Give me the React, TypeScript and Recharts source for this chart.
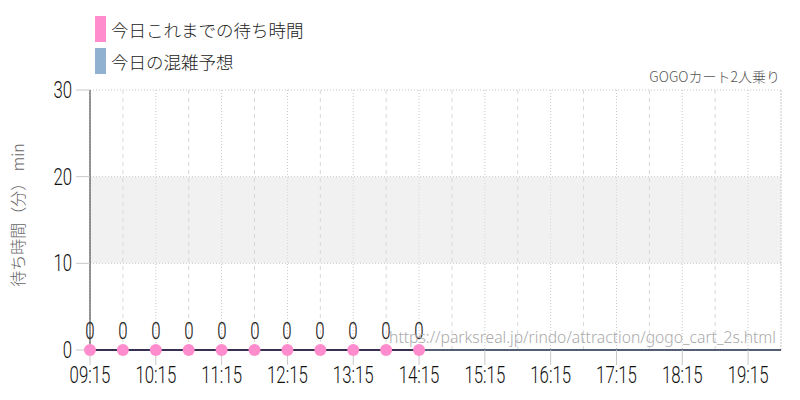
import React from 'react';
import {
  LineChart, Line, XAxis, YAxis, CartesianGrid, ReferenceArea, ReferenceLine, LabelList,
} from 'recharts';

const pointTimes = ['09:15', '09:45', '10:15', '10:45', '11:15', '11:45', '12:15', '12:45', '13:15', '13:45', '14:15'];
const waitValues = [0, 0, 0, 0, 0, 0, 0, 0, 0, 0, 0];
const tickLabels = ['09:15', '10:15', '11:15', '12:15', '13:15', '14:15', '15:15', '16:15', '17:15', '18:15', '19:15'];
const halfHourLabels = ['09:45', '10:45', '11:45', '12:45', '13:45', '14:45', '15:45', '16:45', '17:45', '18:45'];
const domainLabels = ['09:15', '19:45'];
const yTicks = [0, 10, 20, 30];
const busyBand = [10, 20];
const legendItems = [
  { name: '今日これまでの待ち時間', color: '#ff8ccc' },
  { name: '今日の混雑予想', color: '#90b2d0' },
];
const titleText = 'GOGOカート2人乗り';
const urlText = 'https://parksreal.jp/rindo/attraction/gogo_cart_2s.html';
const yLabel = '待ち時間（分） min';

const toMin = (s: string) => {
  const [h, m] = s.split(':').map(Number);
  return h * 60 + m;
};
const fmt = (v: number) => {
  const h = Math.floor(v / 60);
  const m = v % 60;
  return `${String(h).padStart(2, '0')}:${String(m).padStart(2, '0')}`;
};

const data = pointTimes.map((t, i) => ({ t: toMin(t), wait: waitValues[i] }));
const numFont = 'Roboto, sans-serif';

const XTick = (props: any) => {
  const { x, y, payload } = props;
  return (
    <g transform={`translate(${x},${y})`}>
      <text transform="scale(0.73,1)" textAnchor="middle" y={16} fontFamily={numFont} fontWeight={300} fontSize={23} fill="#111" stroke="none">
        {fmt(payload.value)}
      </text>
    </g>
  );
};

const YTick = (props: any) => {
  const { x, y, payload } = props;
  return (
    <g transform={`translate(${x - 2},${y})`}>
      <text transform="scale(0.73,1)" textAnchor="end" y={8} fontFamily={numFont} fontWeight={300} fontSize={23} fill="#111" stroke="none">
        {payload.value}
      </text>
    </g>
  );
};

const PointLabel = (props: any) => {
  const { x, y, value } = props;
  return (
    <g transform={`translate(${Math.round(x)},${Math.round(y) - 11})`}>
      <text transform="scale(0.73,1)" textAnchor="middle" fontFamily={numFont} fontWeight={300} fontSize={23} fill="#222" stroke="#222" strokeWidth={0.15}>
        {value}
      </text>
    </g>
  );
};

export default function App() {
  return (
    <div style={{ position: 'absolute', left: 0, top: 0, width: 800, height: 400, background: '#fff', fontFamily: '"Noto Sans CJK JP", sans-serif' }}>
      <LineChart width={800} height={400} data={data} margin={{ top: 90, right: 19, left: 0, bottom: 0 }}>
        <ReferenceArea y1={busyBand[0]} y2={busyBand[1]} fill="#e4e4e4" fillOpacity={0.5} stroke="none" ifOverflow="visible" />
        <CartesianGrid stroke="#c8c8c8" strokeDasharray="1 2" />
        {halfHourLabels.map((h) => (
          <ReferenceLine key={h} x={toMin(h)} stroke="#d8d8d8" strokeDasharray="4 4" />
        ))}
        <ReferenceLine x={toMin(domainLabels[1])} stroke="#c8c8c8" strokeDasharray="1 2" />
        <XAxis
          dataKey="t"
          type="number"
          domain={[toMin(domainLabels[0]), toMin(domainLabels[1])]}
          ticks={tickLabels.map(toMin)}
          height={50}
          axisLine={{ stroke: '#1e2d48', strokeWidth: 1.5 }}
          tickLine={{ stroke: '#c8c8c8' }}
          tickSize={15}
          tickMargin={2}
          tick={<XTick />}
          interval={0}
        />
        <YAxis
          domain={[0, 30]}
          ticks={yTicks}
          width={90}
          axisLine={{ stroke: '#333' }}
          tickLine={{ stroke: '#c8c8c8' }}
          tickSize={14}
          tickMargin={2}
          tick={<YTick />}
          interval={0}
        />
        <Line
          dataKey="wait"
          stroke="#8a3a6e"
          strokeWidth={2}
          isAnimationActive={false}
          dot={{ r: 6, fill: '#ff8ccc', stroke: 'none' }}
          activeDot={false}
        >
          <LabelList dataKey="wait" content={<PointLabel />} />
        </Line>
      </LineChart>

      <div style={{ position: 'absolute', left: 95, top: 13 }}>
        {legendItems.map((it) => (
          <div key={it.name} style={{ display: 'flex', alignItems: 'center', height: 32 }}>
            <div style={{ width: 11, height: 26, background: it.color, marginRight: 5 }} />
            <span style={{ fontSize: 17.5, color: '#222', whiteSpace: 'nowrap', fontWeight: 300 }}>{it.name}</span>
          </div>
        ))}
      </div>

      <div style={{ position: 'absolute', right: 20, top: 66, fontSize: 14, color: '#555', whiteSpace: 'nowrap', fontWeight: 300 }}>{titleText}</div>

      <div style={{ position: 'absolute', right: 24, top: 326, fontSize: 15.7, color: '#aaa', whiteSpace: 'nowrap', fontFamily: '"Noto Sans", sans-serif', fontWeight: 300 }}>{urlText}</div>

      <div style={{ position: 'absolute', left: 17, top: 215, width: 0, height: 0 }}>
        <div style={{ position: 'absolute', transform: 'translate(-50%,-50%) rotate(-90deg)', fontSize: 16, color: '#666', whiteSpace: 'nowrap', fontWeight: 300 }}>{yLabel}</div>
      </div>
    </div>
  );
}
